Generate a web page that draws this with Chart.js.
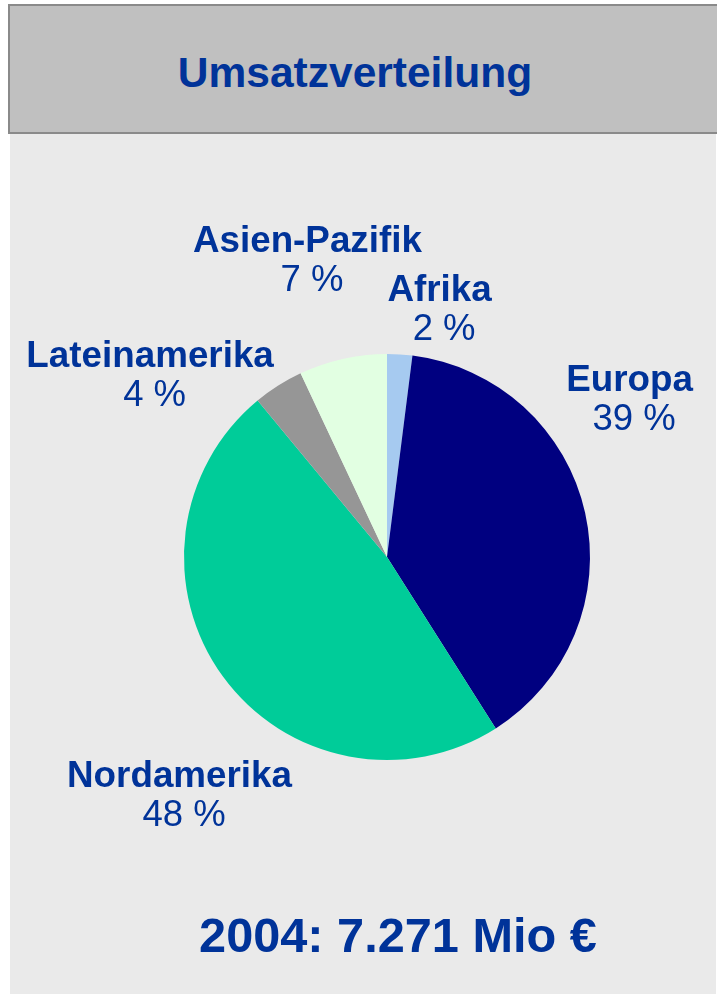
<!DOCTYPE html>
<html>
<head>
<meta charset="utf-8">
<script src="https://cdn.jsdelivr.net/npm/chart.js@4/dist/chart.umd.min.js"></script>
<style>
  html, body { margin: 0; padding: 0; background: #ffffff; }
  #page { position: relative; width: 717px; height: 994px; overflow: hidden; font-family: "Liberation Sans", Arial, sans-serif; }
  #panel { position: absolute; left: 10px; top: 4px; width: 706px; height: 990px; background: #eaeaea; }
  #kopf { position: absolute; left: 8px; top: 4px; width: 720px; height: 126px; background: #c0c0c0; border: 2px solid #8a8a8a; }
  #titel { position: absolute; left: 0; top: 52px; width: 710px; text-align: center; font-weight: bold; font-size: 42.5px; line-height: 42px; color: #003399; }
  #summe { position: absolute; left: 0; top: 911px; width: 796px; text-align: center; font-weight: bold; font-size: 48.7px; line-height: 48px; color: #003399; }
  #torte { position: absolute; left: 0; top: 0; }
</style>
</head>
<body>
<div id="page">
  <div id="panel"></div>
  <div id="kopf"></div>
  <div id="titel">Umsatzverteilung</div>
  <div id="summe">2004: 7.271 Mio €</div>
  <canvas id="torte" width="717" height="994"></canvas>
</div>
<script>
const regionen = ["Afrika", "Europa", "Nordamerika", "Lateinamerika", "Asien-Pazifik"];
const anteile = [2, 39, 48, 4, 7];
const farben = ["#a6caf0", "#000080", "#00cc99", "#969696", "#e2ffe2"];

// Lage der Beschriftung (Mitte der Namenszeile, Grundlinie) relativ zum Tortenmittelpunkt, in Radien
const beschriftungLage = [
  [0.259, -1.261],
  [1.195, -0.819],
  [-1.022, 1.131],
  [-1.167, -0.937],
  [-0.392, -1.501]
];

const beschriftung = {
  id: "beschriftung",
  afterDraw(chart) {
    const ctx = chart.ctx;
    const meta = chart.getDatasetMeta(0);
    ctx.save();
    ctx.fillStyle = "#003399";
    ctx.textAlign = "center";
    ctx.textBaseline = "alphabetic";
    meta.data.forEach((arc, i) => {
      const r = arc.outerRadius;
      const x = arc.x + beschriftungLage[i][0] * r;
      const y = arc.y + beschriftungLage[i][1] * r;
      ctx.font = 'bold 36.8px "Liberation Sans", Arial, sans-serif';
      ctx.fillText(chart.data.labels[i], x, y);
      ctx.font = '36.5px "Liberation Sans", Arial, sans-serif';
      ctx.fillText(chart.data.datasets[0].data[i] + " %", x + 4.5, y + 39);
    });
    ctx.restore();
  }
};

new Chart(document.getElementById("torte").getContext("2d"), {
  type: "pie",
  data: {
    labels: regionen,
    datasets: [{
      data: anteile,
      backgroundColor: farben,
      borderWidth: 0
    }]
  },
  options: {
    responsive: false,
    animation: false,
    layout: { padding: { left: 184, right: 127, top: 354, bottom: 234 } },
    plugins: {
      legend: { display: false },
      tooltip: { enabled: false },
      title: { display: false }
    }
  },
  plugins: [beschriftung]
});
</script>
</body>
</html>
